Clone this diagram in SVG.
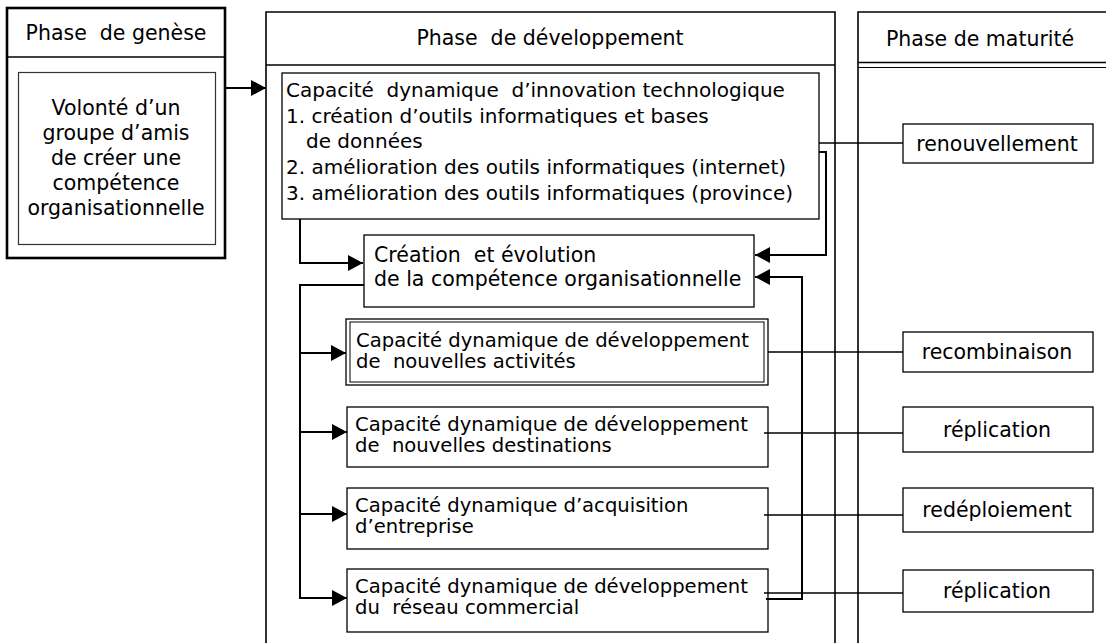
<svg xmlns="http://www.w3.org/2000/svg" width="1106" height="643" viewBox="0 0 1106 643">
<defs>
<style>
text{font-family:"DejaVu Sans","Verdana",sans-serif;font-size:20.5px;fill:#000;white-space:pre}
.sm{font-size:19.6px}
.md{font-size:20px}
.mid{text-anchor:middle}
.box{fill:#fff;stroke:#000;stroke-width:1.3}
.thin{fill:none;stroke:#000;stroke-width:1.3}
.frame{fill:none;stroke:#000;stroke-width:1.6}
.conn{fill:none;stroke:#000;stroke-width:2}
</style>
<marker id="arr" markerUnits="userSpaceOnUse" markerWidth="17" markerHeight="17" refX="15" refY="8" orient="auto">
<path d="M0,0 L15,8 L0,16 z" fill="#000"/>
</marker>
</defs>
<rect width="1106" height="643" fill="#fff"/>

<g id="phase-genese">
<rect x="7" y="8" width="218" height="250" fill="none" stroke="#000" stroke-width="2.6"/>
<line x1="7" y1="57" x2="225" y2="57" stroke="#000" stroke-width="1.6"/>
<text x="116" y="40" class="mid" xml:space="preserve">Phase  de genèse</text>
</g>
<g id="volonte">
<rect x="18.5" y="72.5" width="197" height="172" fill="#fff" stroke="#333" stroke-width="1.2"/>
<text class="mid" x="116" y="115">Volonté d’un</text>
<text class="mid" x="116" y="140">groupe d’amis</text>
<text class="mid" x="116" y="165">de créer une</text>
<text class="mid" x="116" y="190">compétence</text>
<text class="mid" x="116" y="215">organisationnelle</text>
</g>

<g id="phase-developpement">
<path class="frame" d="M266,643 V12 H835 V643"/>
<line x1="266" y1="65" x2="835" y2="65" stroke="#000" stroke-width="1.6"/>
<text x="550" y="45" class="mid" xml:space="preserve">Phase  de développement</text>
</g>

<g id="phase-maturite">
<path class="frame" d="M858,643 V12 H1106"/>
<line x1="858" y1="62.5" x2="1106" y2="62.5" stroke="#000" stroke-width="1.6"/>
<line x1="858" y1="67.5" x2="1106" y2="67.5" stroke="#000" stroke-width="1"/>
<text x="886" y="46">Phase de maturité</text>
</g>

<g id="innovation">
<rect class="box" x="282" y="73" width="537" height="146"/>
<text class="md" x="286" y="97" xml:space="preserve">Capacité  dynamique  d’innovation technologique</text>
<text class="md" x="286" y="123">1. création d’outils informatiques et bases</text>
<text class="md" x="306" y="148">de données</text>
<text class="md" x="286" y="174">2. amélioration des outils informatiques (internet)</text>
<text class="md" x="286" y="200">3. amélioration des outils informatiques (province)</text>
</g>

<g id="creation">
<rect class="box" x="364" y="235" width="390" height="72"/>
<text x="374" y="262" xml:space="preserve">Création  et évolution</text>
<text x="374" y="286">de la compétence organisationnelle</text>
</g>

<g id="activites">
<rect class="box" x="346" y="319" width="422" height="66"/>
<rect fill="none" stroke="#000" stroke-width="1" x="350" y="322" width="414" height="60"/>
<text class="sm" x="356" y="347">Capacité dynamique de développement</text>
<text class="sm" x="356" y="368" xml:space="preserve">de  nouvelles activités</text>
</g>

<g id="destinations">
<rect class="box" x="347" y="407" width="421" height="60"/>
<text class="sm" x="355" y="431">Capacité dynamique de développement</text>
<text class="sm" x="355" y="452" xml:space="preserve">de  nouvelles destinations</text>
</g>

<g id="acquisition">
<rect class="box" x="347" y="488" width="421" height="61"/>
<text class="sm" x="355" y="512">Capacité dynamique d’acquisition</text>
<text class="sm" x="355" y="533">d’entreprise</text>
</g>

<g id="reseau">
<rect class="box" x="347" y="569" width="421" height="63"/>
<text class="sm" x="355" y="593">Capacité dynamique de développement</text>
<text class="sm" x="355" y="614" xml:space="preserve">du  réseau commercial</text>
</g>

<g id="renouvellement">
<rect class="box" x="903" y="124" width="190" height="39"/>
<text class="mid" x="997" y="151">renouvellement</text>
</g>
<g id="recombinaison">
<rect class="box" x="903" y="332" width="190" height="40"/>
<text class="mid" x="997" y="359">recombinaison</text>
</g>
<g id="replication1">
<rect class="box" x="903" y="407" width="190" height="45"/>
<text class="mid" x="997" y="437">réplication</text>
</g>
<g id="redeploiement">
<rect class="box" x="903" y="488" width="190" height="44"/>
<text class="mid" x="997" y="517">redéploiement</text>
</g>
<g id="replication2">
<rect class="box" x="903" y="570" width="190" height="42"/>
<text class="mid" x="997" y="598">réplication</text>
</g>

<g id="connectors">
<path class="conn" d="M225,88 H266" marker-end="url(#arr)"/>
<path class="conn" d="M300,219 V263 H363" marker-end="url(#arr)"/>
<path class="conn" d="M364,285 H300 V598 H347" marker-end="url(#arr)"/>
<path class="conn" d="M300,353 H346" marker-end="url(#arr)"/>
<path class="conn" d="M300,432 H347" marker-end="url(#arr)"/>
<path class="conn" d="M300,514 H347" marker-end="url(#arr)"/>
<path class="conn" d="M819,152 H826 V255 H755" marker-end="url(#arr)"/>
<path class="conn" d="M766,599 H802 V277 H755" marker-end="url(#arr)"/>
<path class="thin" d="M819,143 H903"/>
<path class="thin" d="M768,352 H903"/>
<path class="thin" d="M764,433 H903"/>
<path class="thin" d="M764,515 H903"/>
<path class="thin" d="M764,593 H903"/>
</g>
</svg>
